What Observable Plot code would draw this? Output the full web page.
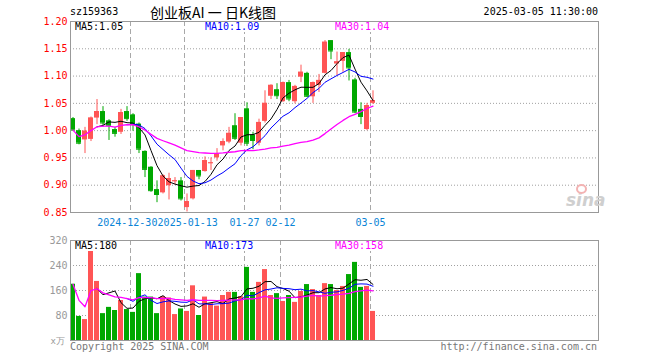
<!DOCTYPE html>
<html><head><meta charset="utf-8">
<script src="https://cdn.jsdelivr.net/npm/d3@7"></script>
<script src="https://cdn.jsdelivr.net/npm/@observablehq/plot@0.6"></script>
<style>
body{margin:0;background:#fff;}
#wrap{position:relative;width:660px;height:360px;overflow:hidden;font-family:"DejaVu Sans Mono",monospace;font-size:10px;}
.t{position:absolute;white-space:pre;line-height:10px;}
#wrap svg{position:absolute;left:0;}
</style></head><body><div id="wrap"></div>
<script>
const code = "sz159363";
const title = "创业板AI 一 日K线图";
const stamp = "2025-03-05 11:30:00";
const dates = ["2024-12-16","2024-12-17","2024-12-18","2024-12-19","2024-12-20","2024-12-23","2024-12-24","2024-12-25","2024-12-26","2024-12-27",
"2024-12-30","2024-12-31","2025-01-02","2025-01-03","2025-01-06","2025-01-07","2025-01-08","2025-01-09","2025-01-10","2025-01-13",
"2025-01-14","2025-01-15","2025-01-16","2025-01-17","2025-01-20","2025-01-21","2025-01-22","2025-01-23","2025-01-24","2025-01-27",
"2025-02-05","2025-02-06","2025-02-07","2025-02-10","2025-02-11","2025-02-12","2025-02-13","2025-02-14","2025-02-17","2025-02-18",
"2025-02-19","2025-02-20","2025-02-21","2025-02-24","2025-02-25","2025-02-26","2025-02-27","2025-02-28","2025-03-03","2025-03-04","2025-03-05"];
const open = [1.022,1.000,0.983,0.984,1.023,1.035,1.018,1.002,0.997,1.035,
1.029,1.012,0.962,0.933,0.892,0.886,0.899,0.907,0.908,0.859,
0.875,0.927,0.925,0.940,0.950,0.972,0.979,1.009,0.977,1.040,
0.992,0.977,1.017,1.063,1.075,1.053,1.088,1.053,1.098,1.105,
1.062,1.083,1.105,1.165,1.122,1.127,1.143,1.093,1.039,1.002,1.050];
const high = [1.024,1.003,1.006,1.025,1.057,1.044,1.020,1.006,1.039,1.044,
1.031,1.014,0.963,0.934,0.908,0.919,0.922,0.914,0.914,0.884,
0.927,0.927,0.952,0.950,0.967,0.985,1.006,1.031,1.024,1.051,
0.997,1.021,1.073,1.084,1.086,1.089,1.092,1.083,1.120,1.107,
1.089,1.103,1.165,1.165,1.144,1.143,1.149,1.096,1.051,1.050,1.073];
const low = [1.000,0.974,0.958,0.980,1.011,1.006,0.982,0.988,0.993,1.017,
0.999,0.958,0.914,0.887,0.868,0.884,0.873,0.901,0.871,0.851,
0.873,0.910,0.924,0.927,0.944,0.963,0.976,0.982,0.972,0.971,
0.965,0.972,1.014,1.057,1.057,1.052,1.053,1.049,1.088,1.061,
1.050,1.070,1.104,1.130,1.101,1.107,1.091,1.031,1.011,1.000,1.048];
const close = [1.001,0.977,0.999,1.023,1.035,1.014,1.009,0.995,1.033,1.022,
1.011,0.966,0.929,0.890,0.883,0.917,0.912,0.908,0.875,0.870,
0.927,0.917,0.945,0.941,0.957,0.980,0.995,0.986,1.024,0.977,
0.982,1.015,1.050,1.083,1.064,1.088,1.058,1.081,1.107,1.063,
1.088,1.092,1.162,1.146,1.126,1.143,1.115,1.034,1.026,1.046,1.055];
const volume = [180,77,67,315,189,86,106,96,128,99,
90,214,139,139,86,140,136,83,101,93,
175,80,139,118,110,144,154,154,140,234,
154,186,227,144,150,125,144,122,157,179,
163,144,182,179,160,173,211,250,170,173,93];
const tickDates = ["2024-12-30","2025-01-13","2025-01-27","2025-02-12","2025-03-05"];
const tickLabels = ["2024-12-30","2025-01-13","01-27","02-12","03-05"];
const priceTicks = [0.85,0.90,0.95,1.00,1.05,1.10,1.15,1.20];
const volTicks = [80,160,240,320];
const priceLegend = ["MA5:1.05","MA10:1.09","MA30:1.04"];
const volLegend = ["MA5:180","MA10:173","MA30:158"];
const maColors = ["#000000","#0000ff","#ff00ff"];
const totalSlots = 88;

const RED = "#ff5555", GREEN = "#00a800", BLUE_LBL = "#0a84d6";
const rows = dates.map((d, i) => ({i, date: d, open: open[i], high: high[i], low: low[i], close: close[i], vol: volume[i]}));
const col = d => d.close >= d.open ? RED : GREEN;
const tickIdx = tickDates.map(d => dates.indexOf(d));
const tickRows = tickIdx.map((i, j) => ({i, label: tickLabels[j]}));
const slots = d3.range(totalSlots);
const font = {fontFamily: "DejaVu Sans Mono, monospace", fontSize: "10px", background: "transparent"};
const xScale = {type: "band", domain: slots, range: [69.5, 597.5], paddingInner: 1/6, paddingOuter: 1/12, axis: null};

function maLines(field, strictList) {
  return [5, 10, 30].map((k, j) => Plot.lineY(rows, Plot.windowY({k, anchor: "end", reduce: "mean", strict: strictList[j]},
    {x: "i", y: field, stroke: maColors[j], strokeWidth: j === 2 ? 1.3 : 1})));
}
// date labels: the first two are nudged apart slightly so they do not collide
const dateLabel = (sel, shift) => Plot.text(sel, {x: "i", text: "label", frameAnchor: "bottom", dy: 10, dx: -2.5 + shift, fill: BLUE_LBL, fontSize: 10, lineAnchor: "middle"});

const price = Plot.plot({
  width: 660, height: 232, marginLeft: 70, marginRight: 62, marginTop: 21, marginBottom: 20,
  style: font,
  x: xScale,
  y: {domain: [0.85, 1.20], axis: null},
  marks: [
    Plot.ruleY(priceTicks.slice(1, -1), {stroke: "#a0a0a0", strokeDasharray: "1,2"}),
    Plot.ruleX(tickIdx, {dx: -2.5, stroke: "#a8a8a8", strokeDasharray: "5,3"}),
    Plot.axisY(priceTicks, {anchor: "left", label: null, tickSize: 0, tickPadding: 3, tickFormat: d3.format(".2f"), fill: "#ff0000", fontSize: 10}),
    dateLabel(tickRows.slice(0, 1), -3.2),
    dateLabel(tickRows.slice(1, 2), 3.2),
    dateLabel(tickRows.slice(2), 0),
    Plot.ruleX(rows, {x: "i", y1: "low", y2: "high", stroke: col}),
    Plot.barY(rows, {x: "i", y1: "open", y2: "close", fill: col}),
    Plot.tickY(rows, {x: "i", y: "close", stroke: col}),
    ...maLines("close", [true, true, false]),
    Plot.frame({stroke: "#999"})
  ]
});

const vol = Plot.plot({
  width: 660, height: 128, marginLeft: 70, marginRight: 62, marginTop: 8, marginBottom: 20,
  style: font,
  x: xScale,
  y: {domain: [0, 320], axis: null},
  marks: [
    Plot.ruleY(volTicks.slice(0, -1), {stroke: "#a0a0a0", strokeDasharray: "1,2"}),
    Plot.ruleX(tickIdx, {dx: -2.5, stroke: "#a8a8a8", strokeDasharray: "5,3"}),
    Plot.axisY(volTicks, {anchor: "left", label: null, tickSize: 0, tickPadding: 3, fill: "#999", fontSize: 10}),
    Plot.barY(rows, {x: "i", y: "vol", fill: col}),
    ...maLines("vol", [true, true, false]),
    Plot.frame({stroke: "#999"})
  ]
});

const wrap = document.getElementById("wrap");
price.style.top = "0px";
vol.style.top = "232px";
wrap.appendChild(price);
wrap.appendChild(vol);

function addText(txt, css) {
  const s = document.createElement("div");
  s.className = "t";
  s.textContent = txt;
  Object.assign(s.style, css);
  wrap.appendChild(s);
  return s;
}
addText(code, {left: "70px", top: "7px", color: "#000"});
addText(title, {left: "150px", top: "4px", color: "#000", fontSize: "14px", lineHeight: "16px", fontFamily: "'Noto Sans CJK SC', 'DejaVu Sans Mono', sans-serif"});
addText(stamp, {right: "62px", top: "7px", color: "#000"});
priceLegend.forEach((t, j) => addText(t, {left: (75 + 130 * j) + "px", top: "22px", color: maColors[j], background: "#fff"}));
volLegend.forEach((t, j) => addText(t, {left: (75 + 130 * j) + "px", top: "241px", color: maColors[j], background: "#fff"}));
addText("x万", {right: "595px", top: "336px", color: "#999", fontSize: "9px"});
addText("Copyright 2025 SINA.COM", {left: "70px", top: "342px", color: "#777"});
addText("http://finance.sina.com.cn", {right: "63px", top: "342px", color: "#777"});
addText("sina", {left: "566px", top: "192px", color: "#cfcfcf", fontSize: "17px", lineHeight: "17px", fontStyle: "italic", fontWeight: "bold", fontFamily: "'DejaVu Sans', sans-serif"});
const eye = document.createElement("div");
Object.assign(eye.style, {position: "absolute", left: "576px", top: "184px", width: "7px", height: "6px", border: "2px solid #f3b3b3", borderRadius: "50%"});
wrap.appendChild(eye);
</script></body></html>
